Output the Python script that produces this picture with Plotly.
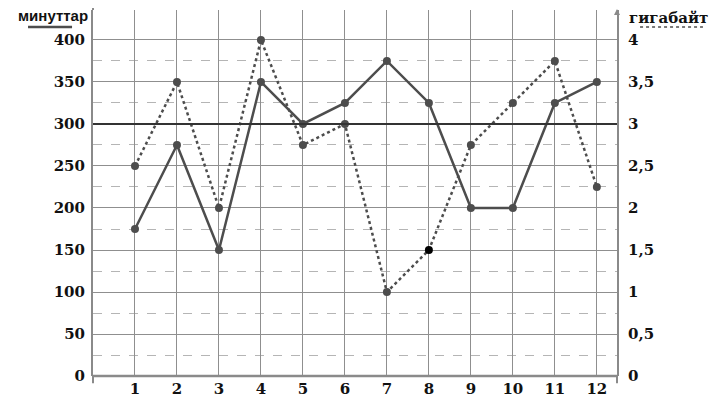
import plotly.graph_objects as go

months = [1, 2, 3, 4, 5, 6, 7, 8, 9, 10, 11, 12]
minutes = [175, 275, 150, 350, 300, 325, 375, 325, 200, 200, 325, 350]
gigabytes = [2.5, 3.5, 2, 4, 2.75, 3, 1, 1.5, 2.75, 3.25, 3.75, 2.25]
left_ticks = [0, 50, 100, 150, 200, 250, 300, 350, 400]
right_ticks = [0, 0.5, 1, 1.5, 2, 2.5, 3, 3.5, 4]
right_labels = ["0", "0,5", "1", "1,5", "2", "2,5", "3", "3,5", "4"]

LINE = "#4d4d4d"
GRID = "#8f8f8f"
AXIS = "#8a8a8a"
serif = "DejaVu Serif"
tf = dict(family=serif, size=15, color="#111", weight="bold")

fig = go.Figure()
fig.add_trace(go.Scatter(
    x=months, y=minutes, mode="lines+markers",
    line=dict(color=LINE, width=2.5),
    marker=dict(color=LINE, size=8), yaxis="y", showlegend=False))
marker_colors = [LINE] * len(months)
marker_colors[7] = "#000000"
fig.add_trace(go.Scatter(
    x=months, y=gigabytes, mode="lines+markers",
    line=dict(color=LINE, width=2.5, dash="dot"),
    marker=dict(color=marker_colors, size=8), yaxis="y2", showlegend=False,
    cliponaxis=False))

# page body has an 8px margin; figure sized/placed to compensate
fig.update_layout(
    width=716, height=400,
    margin=dict(l=85, r=107, t=2, b=32),
    plot_bgcolor="white", paper_bgcolor="white",
    xaxis=dict(range=[0, 12.48], tickvals=months, showgrid=True,
               gridcolor=GRID, gridwidth=1.2, zeroline=False,
               showline=False, ticks="", ticklabelstandoff=2, automargin=False,
               tickfont=tf),
    yaxis=dict(range=[0, 435.7], tickvals=left_ticks, showgrid=True,
               gridcolor=GRID, gridwidth=1.2, zeroline=False,
               showline=True, linecolor=AXIS, linewidth=2,
               ticks="", ticklabelstandoff=3, automargin=False,
               tickfont=tf,
               minor=dict(tickvals=[25, 75, 125, 175, 225, 275, 325, 375],
                          showgrid=True, gridcolor="#b5b5b5", griddash="dash",
                          gridwidth=1)),
    yaxis2=dict(range=[0, 4.357], tickvals=right_ticks, ticktext=right_labels,
                overlaying="y", side="right", showgrid=False, zeroline=False,
                showline=True, linecolor=AXIS, linewidth=2, ticks="",
                ticklabelstandoff=6, automargin=False,
                tickfont=tf),
)

fig.add_shape(type="line", xref="paper", x0=0, x1=1, yref="paper", y0=0, y1=0,
              line=dict(color=AXIS, width=2.5))
fig.add_shape(type="line", xref="paper", x0=0, x1=1, yref="y", y0=300, y1=300,
              line=dict(color="#333", width=2))
# axis stubs below zero and above plot top
for xp in (0, 1):
    fig.add_shape(type="line", xref="paper", x0=xp, x1=xp, yref="paper",
                  y0=-0.02, y1=0, line=dict(color=AXIS, width=2))
fig.add_shape(type="line", xref="paper", x0=0, x1=0, yref="paper",
              y0=1, y1=1.01, line=dict(color=AXIS, width=2))
fig.add_annotation(x=1, y=1.004, ax=0, ay=6, xref="paper", yref="paper",
                   axref="pixel", ayref="pixel", showarrow=True, arrowhead=2,
                   arrowsize=0.8, arrowwidth=1.5, arrowcolor=AXIS, text="")

fig.add_annotation(text="<b>минуттар</b>", xref="paper", yref="paper",
                   x=-0.006, y=0.984, xanchor="right", yanchor="middle",
                   showarrow=False,
                   font=dict(family="Liberation Sans", size=15, color="#111"))
fig.add_shape(type="line", xref="paper", yref="paper", x0=-0.124, x1=-0.04,
              y0=0.9536, y1=0.9536, line=dict(color=LINE, width=2.5))
fig.add_annotation(text="<b>гигабайт</b>", xref="paper", yref="paper",
                   x=1.019, y=0.978, xanchor="left", yanchor="middle",
                   showarrow=False,
                   font=dict(family=serif, size=15, color="#111"))
fig.add_shape(type="line", xref="paper", yref="paper", x0=1.044, x1=1.164,
              y0=0.9536, y1=0.9536, line=dict(color=LINE, width=1.5, dash="dot"))

fig.write_html("out.html")
